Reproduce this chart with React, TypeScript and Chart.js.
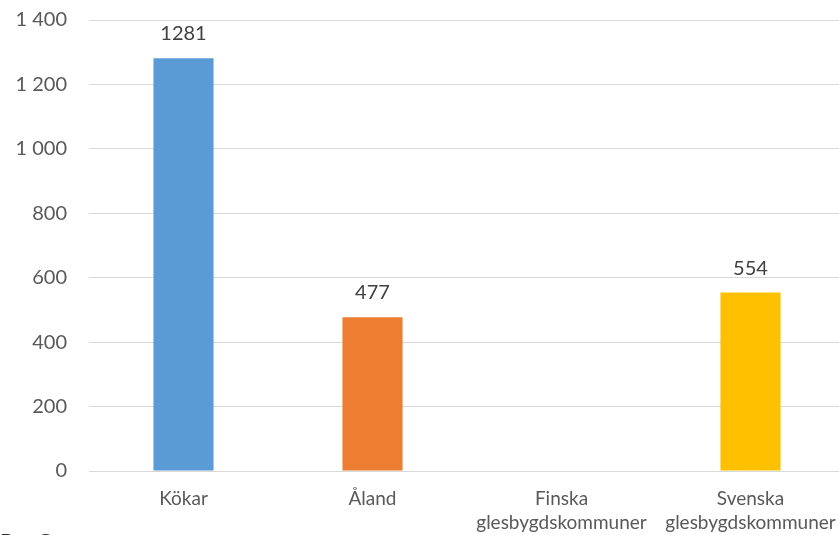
import React, { useEffect, useRef } from "react";
import { Chart, registerables } from "chart.js";

Chart.register(...registerables);

const categories: (string | string[])[] = [
  "Kökar",
  "Åland",
  ["Finska", "glesbygdskommuner"],
  ["Svenska", "glesbygdskommuner"],
];
const values: (number | null)[] = [1281, 477, null, 554];
const barColors = ["#5B9BD5", "#ED7D31", "#A5A5A5", "#FFC000"];
const yTicks = [0, 200, 400, 600, 800, 1000, 1200, 1400];

const FONT = "Lato, 'Open Sans', sans-serif";
const SHIFT = 14;

const fmt = (v: number) => {
  const s = String(Math.round(v));
  return s.replace(/\B(?=(\d{3})+(?!\d))/g, " ");
};

const dataLabels = {
  id: "dataLabels",
  afterDatasetsDraw(chart: any) {
    const ctx = chart.ctx;
    const meta = chart.getDatasetMeta(0);
    ctx.save();
    ctx.font = `20px ${FONT}`;
    ctx.fillStyle = "#404040";
    ctx.textAlign = "center";
    ctx.textBaseline = "alphabetic";
    meta.data.forEach((el: any, i: number) => {
      const v = values[i];
      if (v == null) return;
      ctx.fillText(String(v), el.x, el.y - 18);
    });
    ctx.restore();
  },
};

const footerText = {
  id: "footerText",
  afterDraw(chart: any) {
    const ctx = chart.ctx;
    ctx.save();
    ctx.font = `22px ${FONT}`;
    ctx.fillStyle = "#262626";
    ctx.textAlign = "left";
    ctx.textBaseline = "top";
    ctx.fillText("P.", 0, 531 + SHIFT);
    ctx.fillText("O", 37, 531 + SHIFT);
    ctx.restore();
  },
};

export default function App() {
  const ref = useRef<HTMLCanvasElement | null>(null);
  useEffect(() => {
    if (!ref.current) return;
    const chart = new Chart(ref.current, {
      type: "bar",
      data: {
        labels: categories,
        datasets: [
          {
            data: values as any,
            backgroundColor: barColors,
            barPercentage: 0.53,
            categoryPercentage: 0.6,
          },
        ],
      },
      options: {
        animation: false,
        responsive: false,
        maintainAspectRatio: false,
        layout: { padding: { top: 8, right: 0, bottom: 0, left: 0 } },
        plugins: { legend: { display: false }, tooltip: { enabled: false } },
        scales: {
          x: {
            grid: { display: false },
            border: { display: false },
            afterFit: (axis: any) => {
              axis.height = 64;
            },
            ticks: {
              color: "#595959",
              font: { family: FONT, size: 19, lineHeight: 1.27 },
              maxRotation: 0,
              autoSkip: false,
              padding: 8,
            },
          },
          y: {
            min: 0,
            max: 1400,
            afterBuildTicks: (axis: any) => {
              axis.ticks = yTicks.map((v) => ({ value: v }));
            },
            grid: { color: "#d9d9d9", lineWidth: 1, drawTicks: false },
            border: { display: false },
            afterFit: (axis: any) => {
              axis.width = 89;
            },
            ticks: {
              color: "#595959",
              font: { family: FONT, size: 20 },
              padding: 22,
              callback: (v: any) => fmt(Number(v)),
            },
          },
        },
      },
      plugins: [dataLabels, footerText],
    });
    return () => chart.destroy();
  }, []);
  return (
    <div
      style={{
        position: "fixed",
        left: 0,
        top: 0,
        width: 839,
        height: 535,
        overflow: "hidden",
        background: "#fff",
      }}
    >
      <canvas
        ref={ref}
        width={845}
        height={535 + SHIFT}
        style={{ display: "block", marginTop: -SHIFT }}
      />
    </div>
  );
}
